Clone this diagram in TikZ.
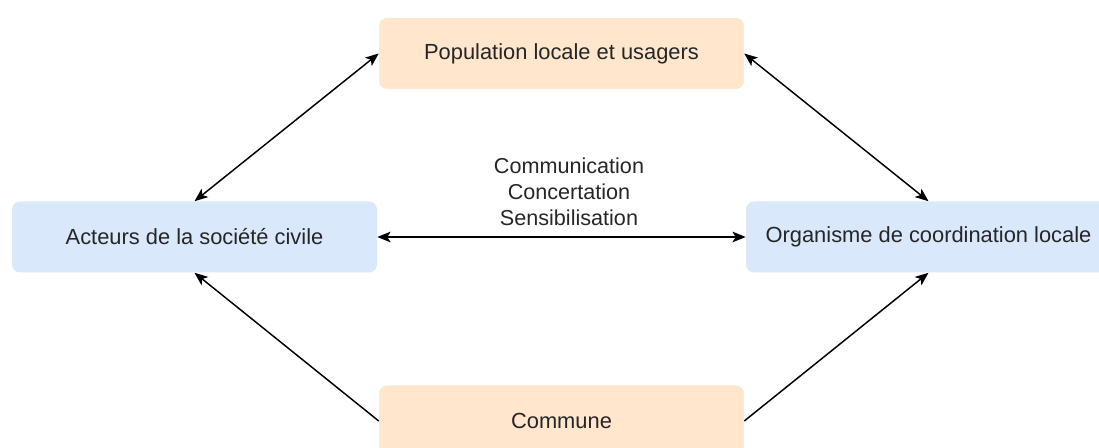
\documentclass[tikz,border=0pt]{standalone}
\usepackage{fontspec}
\setmainfont{Liberation Sans}
\usetikzlibrary{arrows.meta}
\definecolor{peach}{HTML}{FFE6CC}
\definecolor{paleblue}{HTML}{DAE8FC}
\definecolor{ink}{HTML}{262626}
\tikzset{
  box/.style={rounded corners=6pt, minimum width=273.75pt, minimum height=53.25pt,
    inner sep=0pt, font=\fontsize{16.4}{19.5}\selectfont, text=ink},
  peachbox/.style={box, fill=peach},
  bluebox/.style={box, fill=paleblue},
  tip/.style={arrows={-Stealth[length=10pt,width=8pt,inset=2.5pt]}},
  link/.style={line width=1.1pt, draw=black, tip},
  twoway/.style={line width=1.1pt, draw=black,
    arrows={Stealth[length=10pt,width=8pt,inset=2.5pt]-Stealth[length=10pt,width=8pt,inset=2.5pt]}}
}
\begin{document}
\begin{tikzpicture}[x=0.75pt, y=-0.75pt]
  \useasboundingbox (0,0) rectangle (1099,448);
  \clip (0,0) rectangle (1099,448);

  % actors
  \node[peachbox] (pop) at (561.5,53.5) {Population locale et usagers};
  \node[bluebox]  (civ) at (194.5,237) {Acteurs de la société civile};
  \node[bluebox]  (org) at (928.5,237) {Organisme de coordination locale};
  \node[peachbox] (com) at (561.5,421) {Commune};

  % relations
  \draw[twoway] (pop.west) -- (civ.north);
  \draw[twoway] (pop.east) -- (org.north);
  \draw[twoway] (civ.east) -- (org.west);
  \draw[link] (com.west) -- (civ.south);
  \draw[link] (com.east) -- (org.south);

  \node[align=center, inner sep=0pt, text=ink, font=\fontsize{16.2}{19.5}\selectfont]
    (lbl) at (569,191.5) {Communication\\Concertation\\Sensibilisation};
\end{tikzpicture}
\end{document}
